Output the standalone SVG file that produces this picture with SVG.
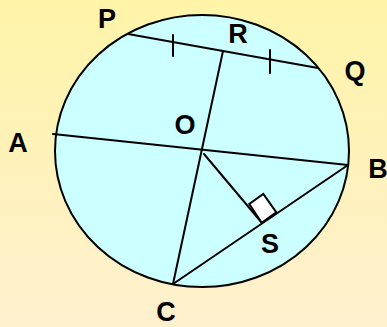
<svg xmlns="http://www.w3.org/2000/svg" width="387" height="327" viewBox="0 0 387 327">
<defs>
<linearGradient id="bg" x1="0" y1="0" x2="0" y2="1">
<stop offset="0" stop-color="#FFF4A8"/>
<stop offset="1" stop-color="#FEF0CE"/>
</linearGradient>
<style>
.ln{stroke:#000;stroke-width:2;fill:none;stroke-linecap:round}
.lb{font-family:"Liberation Sans",Arial,sans-serif;font-weight:bold;font-size:27px;fill:#000;text-anchor:middle}
</style>
</defs>
<rect width="387" height="327" fill="url(#bg)"/>
<g id="circle">
<ellipse cx="202" cy="151" rx="147" ry="136" fill="#CCFFFF" stroke="#000" stroke-width="2"/>
</g>
<g id="connectors">
<line class="ln" x1="128" y1="34" x2="318" y2="68"/>
<line class="ln" x1="173" y1="35" x2="173" y2="56"/>
<line class="ln" x1="270" y1="50" x2="270" y2="73"/>
<line class="ln" x1="53" y1="134" x2="348" y2="165"/>
<line class="ln" x1="223" y1="51" x2="173" y2="284"/>
<line class="ln" x1="173" y1="284" x2="348" y2="165"/>
<line class="ln" x1="204" y1="154" x2="262" y2="223"/>
<polygon points="261.7,222.7 249.3,204 263.3,194 276.3,212.3" fill="#fff" stroke="#000" stroke-width="2"/>
</g>
<g id="labels">
<text class="lb" x="107" y="28">P</text>
<text class="lb" x="238" y="43">R</text>
<text class="lb" x="355" y="80">Q</text>
<text class="lb" x="18" y="152">A</text>
<text class="lb" x="185" y="134">O</text>
<text class="lb" x="378" y="178">B</text>
<text class="lb" x="270" y="253">S</text>
<text class="lb" x="166" y="320.5">C</text>
</g>
</svg>
